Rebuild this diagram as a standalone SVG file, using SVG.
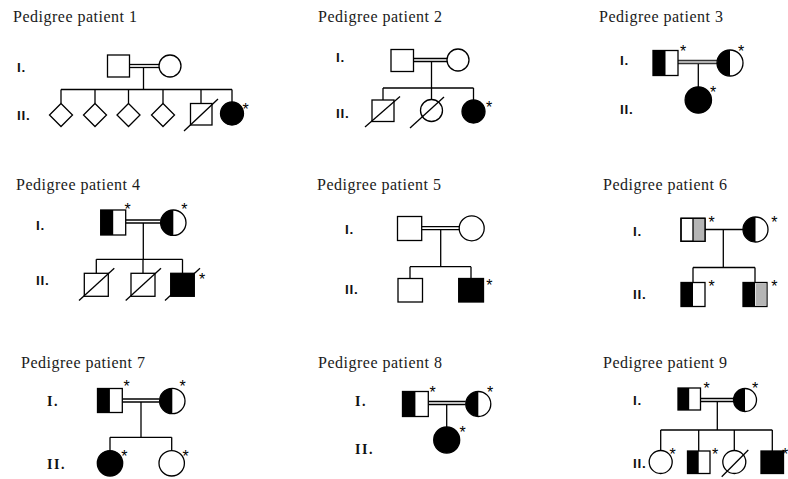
<svg xmlns="http://www.w3.org/2000/svg" width="788" height="479" viewBox="0 0 788 479">
<style>
.t{font-family:"Liberation Sans",Arial,sans-serif}
.t{font-family:"Liberation Serif","Times New Roman",serif;font-size:16px;letter-spacing:0.5px;fill:#1a1a1a}
.g{font-family:"Liberation Sans",Arial,sans-serif;font-weight:bold;font-size:13.5px;letter-spacing:0.8px;fill:#111}
.gs{font-family:"Liberation Serif","Times New Roman",serif;font-weight:bold;font-size:14px;letter-spacing:1.5px;fill:#111}
.a{font-family:"Liberation Sans",Arial,sans-serif;font-size:16px;text-anchor:middle;fill:#000}
.o{fill:#fff;stroke:#000;stroke-width:1.3}
.k{fill:#000;stroke:#000;stroke-width:1.3}
.kf{fill:#000}
.gr{fill:#b5b5b5}
.l{stroke:#000;stroke-width:1.3;fill:none}
.dg{stroke:#333;stroke-width:4.4;fill:none}
.dgi{stroke:#b0b0b0;stroke-width:1.8;fill:none}
</style>
<rect width="788" height="479" fill="#fff"/>

<!-- Pedigree 1 -->
<g id="ped1">
<text class="t" x="13" y="22">Pedigree patient 1</text>
<text class="g" x="17" y="72">I.</text>
<text class="g" x="17" y="119.5">II.</text>
<g id="ped1-connectors" class="l">
<line x1="129.5" y1="64.5" x2="159" y2="64.5"/>
<line x1="129.5" y1="67.5" x2="159" y2="67.5"/>
<line x1="143.5" y1="67.5" x2="143.5" y2="89.5"/>
<line x1="61" y1="89.5" x2="232" y2="89.5"/>
<line x1="61" y1="89.5" x2="61" y2="103.5"/>
<line x1="95" y1="89.5" x2="95" y2="103.5"/>
<line x1="128.5" y1="89.5" x2="128.5" y2="103.5"/>
<line x1="163" y1="89.5" x2="163" y2="103.5"/>
<line x1="201" y1="89.5" x2="201" y2="103.5"/>
<line x1="232" y1="89.5" x2="232" y2="102"/>
</g>
<g id="ped1-I1"><rect class="o" x="107.5" y="55" width="22" height="22"/></g>
<g id="ped1-I2"><circle class="o" cx="170" cy="66" r="11"/></g>
<g id="ped1-II1"><polygon class="o" points="61,103.5 72.5,115 61,126.5 49.5,115"/></g>
<g id="ped1-II2"><polygon class="o" points="95,103.5 106.5,115 95,126.5 83.5,115"/></g>
<g id="ped1-II3"><polygon class="o" points="128.5,103.5 140,115 128.5,126.5 117,115"/></g>
<g id="ped1-II4"><polygon class="o" points="163,103.5 174.5,115 163,126.5 151.5,115"/></g>
<g id="ped1-II5"><rect class="o" x="190.5" y="103.5" width="21.5" height="21.5"/><line class="l" x1="184" y1="131" x2="218" y2="99"/></g>
<g id="ped1-II6"><circle class="k" cx="232" cy="113.5" r="11.5"/><text class="a" x="245.5" y="115.2">*</text></g>
</g>

<!-- Pedigree 2 -->
<g id="ped2">
<text class="t" x="318" y="22">Pedigree patient 2</text>
<text class="g" x="336" y="62">I.</text>
<text class="g" x="336" y="117.5">II.</text>
<g id="ped2-connectors" class="l">
<line x1="413.5" y1="58.5" x2="447" y2="58.5"/>
<line x1="413.5" y1="61.5" x2="447" y2="61.5"/>
<line x1="431.5" y1="61.5" x2="431.5" y2="88"/>
<line x1="383" y1="88" x2="473.5" y2="88"/>
<line x1="383" y1="88" x2="383" y2="100"/>
<line x1="431.5" y1="88" x2="431.5" y2="99.5"/>
<line x1="473.5" y1="88" x2="473.5" y2="100"/>
</g>
<g id="ped2-I1"><rect class="o" x="391" y="49.5" width="22.5" height="22"/></g>
<g id="ped2-I2"><circle class="o" cx="458" cy="60" r="11"/></g>
<g id="ped2-II1"><rect class="o" x="372" y="100" width="22" height="21.5"/><line class="l" x1="365" y1="127" x2="400" y2="96.5"/></g>
<g id="ped2-II2"><circle class="o" cx="431.5" cy="110.5" r="11"/><line class="l" x1="410" y1="128" x2="444" y2="97"/></g>
<g id="ped2-II3"><circle class="k" cx="473.5" cy="111.5" r="11.5"/><text class="a" x="489" y="113.2">*</text></g>
</g>

<!-- Pedigree 3 -->
<g id="ped3">
<text class="t" x="599" y="22">Pedigree patient 3</text>
<text class="g" x="620" y="65">I.</text>
<text class="g" x="620" y="113.5">II.</text>
<g id="ped3-connectors">
<line class="dg" x1="677.7" y1="62" x2="717.5" y2="62"/>
<line class="dgi" x1="677.7" y1="62" x2="717.5" y2="62"/>
<line class="l" x1="698.3" y1="64" x2="698.3" y2="87"/>
</g>
<g id="ped3-I1"><rect class="o" x="653" y="50.5" width="25" height="25"/><rect class="kf" x="653" y="50.5" width="12.5" height="25"/><text class="a" x="683" y="57.1">*</text></g>
<g id="ped3-I2"><circle class="o" cx="730" cy="63" r="13"/><path class="kf" d="M730,50 A13,13 0 0 0 730,76 Z"/><text class="a" x="741" y="57.1">*</text></g>
<g id="ped3-II1"><circle class="k" cx="698.3" cy="100" r="13.2"/><text class="a" x="713" y="98.4">*</text></g>
</g>

<!-- Pedigree 4 -->
<g id="ped4">
<text class="t" x="16" y="189.5">Pedigree patient 4</text>
<text class="g" x="36" y="229.5">I.</text>
<text class="g" x="36" y="284.5">II.</text>
<g id="ped4-connectors" class="l">
<line x1="125.7" y1="220" x2="160.6" y2="220"/>
<line x1="125.7" y1="223" x2="160.6" y2="223"/>
<line x1="143.3" y1="223" x2="143.3" y2="259.3"/>
<line x1="96.3" y1="259.3" x2="182.5" y2="259.3"/>
<line x1="96.3" y1="259.3" x2="96.3" y2="273.3"/>
<line x1="143" y1="259.3" x2="143" y2="273.3"/>
<line x1="182.5" y1="259.3" x2="182.5" y2="273.3"/>
</g>
<g id="ped4-I1"><rect class="o" x="100.7" y="210" width="25" height="25"/><rect class="kf" x="100.7" y="210" width="12.5" height="25"/><text class="a" x="127.7" y="215.1">*</text></g>
<g id="ped4-I2"><circle class="o" cx="173.3" cy="222.7" r="12.7"/><path class="kf" d="M173.3,210 A12.7,12.7 0 0 0 173.3,235.4 Z"/><text class="a" x="184.3" y="215.1">*</text></g>
<g id="ped4-II1"><rect class="o" x="84.3" y="273.3" width="24" height="23"/><line class="l" x1="79" y1="300.5" x2="114.3" y2="268.3"/></g>
<g id="ped4-II2"><rect class="o" x="131" y="273.3" width="24" height="23"/><line class="l" x1="125.7" y1="300.5" x2="161" y2="268.3"/></g>
<g id="ped4-II3"><rect class="k" x="170.7" y="273.3" width="23.6" height="23"/><line class="l" x1="165" y1="300.5" x2="200" y2="268.3"/><text class="a" x="202" y="285.1">*</text></g>
</g>

<!-- Pedigree 5 -->
<g id="ped5">
<text class="t" x="317" y="190">Pedigree patient 5</text>
<text class="g" x="345" y="233.5">I.</text>
<text class="g" x="345" y="293.5">II.</text>
<g id="ped5-connectors" class="l">
<line x1="421.7" y1="226.7" x2="459.2" y2="226.7"/>
<line x1="421.7" y1="229.7" x2="459.2" y2="229.7"/>
<line x1="440.7" y1="229.7" x2="440.7" y2="266.7"/>
<line x1="410" y1="266.7" x2="471" y2="266.7"/>
<line x1="410" y1="266.7" x2="410" y2="278.5"/>
<line x1="471" y1="266.7" x2="471" y2="278.5"/>
</g>
<g id="ped5-I1"><rect class="o" x="397.5" y="216.5" width="24.2" height="24"/></g>
<g id="ped5-I2"><circle class="o" cx="471.7" cy="228.3" r="12.5"/></g>
<g id="ped5-II1"><rect class="o" x="398" y="278.5" width="24.5" height="23.5"/></g>
<g id="ped5-II2"><rect class="k" x="458.7" y="278.5" width="24.8" height="23.5"/><text class="a" x="489.3" y="290.7">*</text></g>
</g>

<!-- Pedigree 6 -->
<g id="ped6">
<text class="t" x="603" y="190">Pedigree patient 6</text>
<text class="g" x="633" y="235.5">I.</text>
<text class="g" x="633" y="298.5">II.</text>
<g id="ped6-connectors" class="l">
<line x1="705" y1="229.5" x2="743" y2="229.5"/>
<line x1="723.3" y1="229.5" x2="723.3" y2="267.5"/>
<line x1="693" y1="267.5" x2="755" y2="267.5"/>
<line x1="693" y1="267.5" x2="693" y2="282.5"/>
<line x1="755" y1="267.5" x2="755" y2="282.5"/>
</g>
<g id="ped6-I1"><rect class="o" x="681" y="218.3" width="24" height="23"/><rect class="gr" x="693" y="218.3" width="12" height="23"/><line class="l" x1="693" y1="218.3" x2="693" y2="241.3"/><rect class="l" x="681" y="218.3" width="24" height="23"/><text class="a" x="711.7" y="228.4">*</text></g>
<g id="ped6-I2"><circle class="o" cx="755.5" cy="229.5" r="12.5"/><path class="kf" d="M755.5,217 A12.5,12.5 0 0 0 755.5,242 Z"/><text class="a" x="774.3" y="228.4">*</text></g>
<g id="ped6-II1"><rect class="o" x="681" y="282.5" width="24" height="24"/><rect class="kf" x="681" y="282.5" width="12" height="24"/><text class="a" x="711.7" y="292.4">*</text></g>
<g id="ped6-II2"><rect class="o" x="743" y="282.5" width="24" height="24"/><rect class="kf" x="743" y="282.5" width="12" height="24"/><rect class="gr" x="755.6" y="283.2" width="10.7" height="22.6"/><text class="a" x="774.3" y="292.4">*</text></g>
</g>

<!-- Pedigree 7 -->
<g id="ped7">
<text class="t" x="21" y="368">Pedigree patient 7</text>
<text class="gs" x="47" y="405.5">I.</text>
<text class="gs" x="47" y="468.5">II.</text>
<g id="ped7-connectors" class="l">
<line x1="122.3" y1="399" x2="159.6" y2="399"/>
<line x1="122.3" y1="402" x2="159.6" y2="402"/>
<line x1="141" y1="402" x2="141" y2="437.3"/>
<line x1="110" y1="437.3" x2="171.7" y2="437.3"/>
<line x1="110" y1="437.3" x2="110" y2="450.6"/>
<line x1="171.7" y1="437.3" x2="171.7" y2="450.6"/>
</g>
<g id="ped7-I1"><rect class="o" x="97.5" y="388.5" width="24.8" height="24"/><rect class="kf" x="97.5" y="388.5" width="12.4" height="24"/><text class="a" x="126.7" y="392.4">*</text></g>
<g id="ped7-I2"><circle class="o" cx="172.3" cy="401" r="12.7"/><path class="kf" d="M172.3,388.3 A12.7,12.7 0 0 0 172.3,413.7 Z"/><text class="a" x="182.7" y="392.4">*</text></g>
<g id="ped7-II1"><circle class="k" cx="110" cy="463.3" r="12.7"/><text class="a" x="124.3" y="462.4">*</text></g>
<g id="ped7-II2"><circle class="o" cx="171.7" cy="463.3" r="12.7"/><text class="a" x="185.7" y="462.4">*</text></g>
</g>

<!-- Pedigree 8 -->
<g id="ped8">
<text class="t" x="318" y="368">Pedigree patient 8</text>
<text class="gs" x="355" y="405.5">I.</text>
<text class="gs" x="355" y="453.5">II.</text>
<g id="ped8-connectors" class="l">
<line x1="428.3" y1="401.5" x2="465.8" y2="401.5"/>
<line x1="428.3" y1="404.5" x2="465.8" y2="404.5"/>
<line x1="446.7" y1="404.5" x2="446.7" y2="427"/>
</g>
<g id="ped8-I1"><rect class="o" x="402.5" y="391.5" width="25.8" height="25"/><rect class="kf" x="402.5" y="391.5" width="12.9" height="25"/><text class="a" x="432.7" y="398.4">*</text></g>
<g id="ped8-I2"><circle class="o" cx="478.3" cy="404" r="12.5"/><path class="kf" d="M478.3,391.5 A12.5,12.5 0 0 0 478.3,416.5 Z"/><text class="a" x="490" y="398.4">*</text></g>
<g id="ped8-II1"><circle class="k" cx="446.7" cy="440" r="13"/><text class="a" x="462.7" y="438.4">*</text></g>
</g>

<!-- Pedigree 9 -->
<g id="ped9">
<text class="t" x="603" y="368">Pedigree patient 9</text>
<text class="g" x="633" y="405">I.</text>
<text class="g" x="633" y="467.5">II.</text>
<g id="ped9-connectors" class="l">
<line x1="700.5" y1="398.5" x2="733.5" y2="398.5"/>
<line x1="700.5" y1="401.5" x2="733.5" y2="401.5"/>
<line x1="717.3" y1="401.5" x2="717.3" y2="430"/>
<line x1="660.7" y1="430" x2="772.3" y2="430"/>
<line x1="660.7" y1="430" x2="660.7" y2="450.5"/>
<line x1="698.7" y1="430" x2="698.7" y2="451"/>
<line x1="734.3" y1="430" x2="734.3" y2="450.5"/>
<line x1="772.3" y1="430" x2="772.3" y2="451"/>
</g>
<g id="ped9-I1"><rect class="o" x="678" y="388" width="22.5" height="22"/><rect class="kf" x="678" y="388" width="11.2" height="22"/><text class="a" x="706.7" y="394.1">*</text></g>
<g id="ped9-I2"><circle class="o" cx="745" cy="400" r="11.5"/><path class="kf" d="M745,388.5 A11.5,11.5 0 0 0 745,411.5 Z"/><text class="a" x="755" y="394.1">*</text></g>
<g id="ped9-II1"><circle class="o" cx="660.7" cy="462" r="11.5"/><text class="a" x="672.7" y="459.7">*</text></g>
<g id="ped9-II2"><rect class="o" x="687.5" y="451" width="22.5" height="22.5"/><rect class="kf" x="687.5" y="451" width="11.2" height="22.5"/><text class="a" x="715" y="459.7">*</text></g>
<g id="ped9-II3"><circle class="o" cx="734.3" cy="462" r="11.5"/><line class="l" x1="721.7" y1="476.7" x2="748.3" y2="450"/></g>
<g id="ped9-II4"><rect class="k" x="761" y="451" width="22.5" height="22.5"/><text class="a" x="785" y="459.7">*</text></g>
</g>
</svg>
